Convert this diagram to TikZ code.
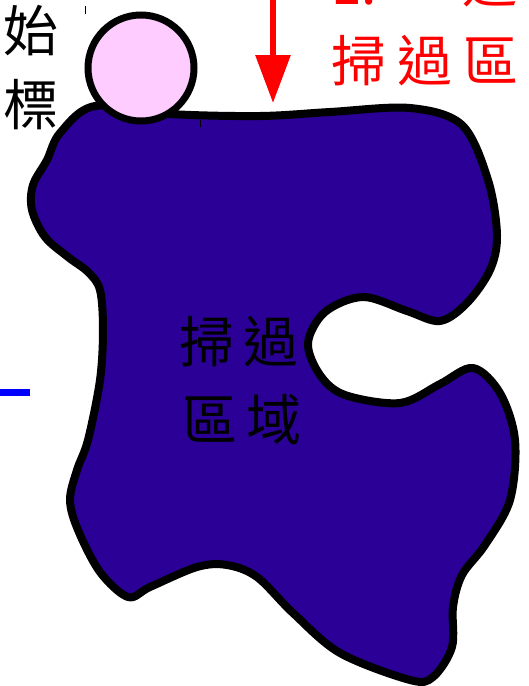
\documentclass[tikz,border=0pt]{standalone}
\usepackage{fontspec}
\newfontfamily\cjk{Noto Sans CJK TC}
\usetikzlibrary{arrows.meta}
\definecolor{blobfill}{RGB}{42,0,150}
\definecolor{pinkfill}{RGB}{255,204,255}
\definecolor{redtxt}{RGB}{255,0,0}
\tikzset{
  blob/.style={draw=black, line width=8pt, fill=blobfill, line join=round},
  ball/.style={draw=black, line width=7pt, fill=pinkfill},
  bigtxt/.style={inner sep=0pt, anchor=base west, font=\cjk\fontsize{55}{60}\selectfont},
  redarrow/.style={draw=redtxt, line width=6pt, -{Triangle[length=48pt,width=34pt]}},
  tick/.style={draw=black, line width=1pt}
}
\begin{document}
\begin{tikzpicture}[x=1pt,y=-1pt]
\useasboundingbox (0,0) rectangle (528,686);
\clip (0,0) rectangle (528,686);
% swept region
\path[blob] plot[smooth cycle, tension=0.55] coordinates {
 (95,106) (170,114) (260,116) (330,112) (410,108) (462,125) (488,180)
 (497,235) (490,270) (467,303) (440,321) (407,311) (363,297) (325,312)
 (308,343) (320,375) (345,395) (400,403) (440,384) (473,368) (500,393)
 (515,440) (510,500) (485,545) (462,575) (453,607) (452,647) (433,677)
 (410,680) (340,653) (293,613) (257,577) (227,565) (197,567) (150,587)
 (128,597) (100,572) (78,530) (70,500) (77,470) (88,440) (100,380)
 (103,330) (100,290) (88,272) (68,257) (45,237) (32,210) (33,185)
 (47,160) (60,133)};
% start ball
\node[ball, circle, minimum size=106pt, inner sep=0pt] (ball) at (141,68) {};
% ticks
\coordinate (tk1a) at (85,6); \coordinate (tk1b) at (85,14);
\draw[tick] (tk1a) -- (tk1b);
\coordinate (tk2a) at (200,120); \coordinate (tk2b) at (200,127);
\draw[tick] (tk2a) -- (tk2b);
% red arrow
\coordinate (arrtop) at (273,-10);
\coordinate (arrtip) at (273,103);
\draw[redarrow] (arrtop) -- (arrtip);
% blue stub
\coordinate (bl1) at (-2,392.5); \coordinate (bl2) at (30,392.5);
\draw[blue, line width=7pt] (bl1) -- (bl2);
% left texts
\node[bigtxt] (lt1) at (3,51) {始};
\node[bigtxt] (lt2) at (3,125) {標};
% centre texts
\node[bigtxt] (ct1) at (179,362) {掃\hspace{9pt}過};
\node[bigtxt] (ct2) at (182,440) {區\hspace{9pt}域};
% red texts
\node[bigtxt, text=redtxt] (rt1) at (331,4) {1.};
\node[bigtxt, text=redtxt] (rt1b) at (462,2) {選};
\node[bigtxt, text=redtxt] (rt2) at (331,81) {掃\hspace{11pt}過\hspace{11pt}區\hspace{11pt}域};
\end{tikzpicture}
\end{document}
